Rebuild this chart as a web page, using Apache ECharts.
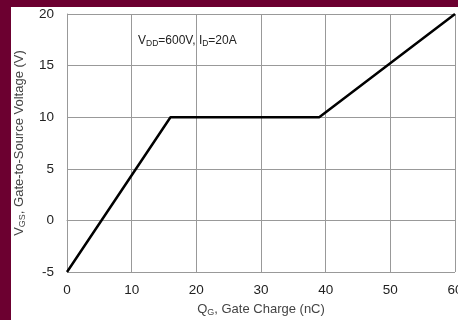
<!DOCTYPE html>
<html><head><meta charset="utf-8">
<script src="https://cdn.jsdelivr.net/npm/echarts@6/dist/echarts.min.js"></script>
<style>
html,body{margin:0;padding:0;width:458px;height:320px;background:#6c0030;overflow:hidden;}
#c{position:absolute;left:11px;top:7px;width:447px;height:313px;background:#fff;}
</style></head><body>
<div id="c"></div>
<script>
const qg = [0, 16, 39, 60];
const vgs = [-5, 10, 10, 20];
const xTicks = [0, 10, 20, 30, 40, 50, 60];
const yTicks = [-5, 0, 5, 10, 15, 20];

const chart = echarts.init(document.getElementById('c'));
const font = 'Liberation Sans, Arial, sans-serif';
chart.setOption({
  animation: false,
  grid: {left: 56, right: 3, top: 7, bottom: 48, outerBoundsMode: 'none', containLabel: false},
  xAxis: {
    type: 'value', min: 0, max: 60, interval: 10,
    axisLine: {show: true, lineStyle: {color: '#999', width: 1}},
    axisTick: {show: false},
    splitLine: {show: true, lineStyle: {color: '#999', width: 1}},
    axisLabel: {color: '#222', fontSize: 13.5, fontFamily: font, margin: 11},
    name: '{n|Q}{s|G}{n|, Gate Charge (nC)}',
    nameLocation: 'middle', nameGap: 30,
    nameTextStyle: {rich: {n: {fontSize: 13, color: '#444', fontFamily: font}, s: {fontSize: 9, color: '#444', fontFamily: font, verticalAlign: 'bottom', padding: [6,0,0,0]}}}
  },
  yAxis: {
    type: 'value', min: -5, max: 20, interval: 5,
    axisLine: {show: true, lineStyle: {color: '#999', width: 1}},
    axisTick: {show: false},
    splitLine: {show: true, lineStyle: {color: '#999', width: 1}},
    axisLabel: {color: '#222', fontSize: 13.5, fontFamily: font, margin: 13},
    name: '{n|V}{s|GS}{n|, Gate-to-Source Voltage (V)}',
    nameLocation: 'middle', nameGap: 40,
    nameTextStyle: {rich: {n: {fontSize: 13, color: '#444', fontFamily: font}, s: {fontSize: 9, color: '#444', fontFamily: font, verticalAlign: 'bottom', padding: [6,0,0,0]}}}
  },
  series: [{
    type: 'line',
    data: qg.map((x, i) => [x, vgs[i]]),
    symbol: 'none',
    lineStyle: {color: '#000', width: 2.5},
    z: 3
  }],
  graphic: [{
    type: 'text', left: 127, top: 28,
    style: {
      text: '{n|V}{s|DD}{n|=600V, I}{s|D}{n|=20A}',
      rich: {n: {fontSize: 12, fill: '#222', fontFamily: font}, s: {fontSize: 8.5, fill: '#222', fontFamily: font, padding: [5,0,0,0]}}
    }
  }]
});
</script></body></html>
